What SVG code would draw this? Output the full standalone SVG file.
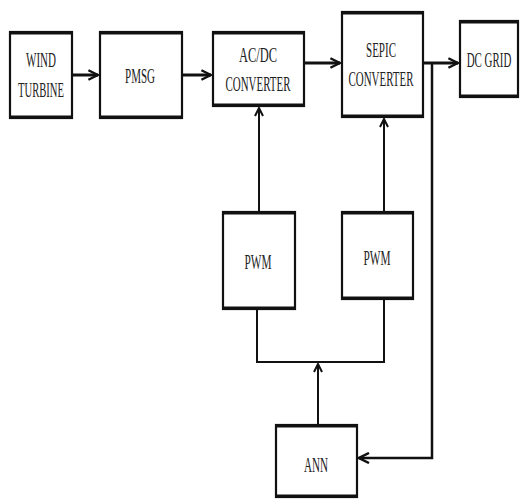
<svg xmlns="http://www.w3.org/2000/svg" width="520" height="499" viewBox="0 0 520 499">
<defs>
<style>
.box{fill:#fff;stroke:#111;stroke-width:2.2}
.edge{stroke:#111;stroke-width:3.2}
.t{font-family:"Liberation Serif","DejaVu Serif",serif;font-size:21px;fill:#222;text-anchor:middle}
.c{fill:none;stroke:#111;stroke-width:2}
.ct{fill:none;stroke:#111;stroke-width:3}
</style>
<marker id="ah" viewBox="0 0 10 10" refX="9" refY="5" markerWidth="4" markerHeight="4" orient="auto" markerUnits="strokeWidth">
<path d="M1,1 L9,5 L1,9" fill="none" stroke="#111" stroke-width="2"/>
</marker>
<marker id="av" viewBox="0 0 10 10" refX="9" refY="5" markerWidth="5" markerHeight="5" orient="auto" markerUnits="strokeWidth">
<path d="M1,1 L9,5 L1,9" fill="none" stroke="#111" stroke-width="2"/>
</marker>
</defs>
<rect width="520" height="499" fill="#fff"/>
<g id="connectors">
<line class="ct" x1="73" y1="75" x2="98" y2="75" marker-end="url(#ah)"/>
<line class="ct" x1="183" y1="75" x2="211" y2="75" marker-end="url(#ah)"/>
<line class="ct" x1="305" y1="63" x2="340" y2="63" marker-end="url(#ah)"/>
<line class="ct" x1="424" y1="63" x2="458" y2="63" marker-end="url(#ah)"/>
<polyline class="c" points="432,63 432,458 359,458" marker-end="url(#av)" style="stroke-width:2.5"/>
<line class="c" x1="259" y1="212" x2="259" y2="108" marker-end="url(#av)"/>
<line class="c" x1="384" y1="212" x2="384" y2="119" marker-end="url(#av)"/>
<polyline class="c" points="257,309 257,362 384,362 384,299"/>
<line class="c" x1="318" y1="425" x2="318" y2="364" marker-end="url(#av)"/>
</g>
<g id="wind-turbine">
<rect class="box" x="10" y="32" width="62" height="86"/>
<line class="edge" x1="9" y1="33" x2="73" y2="33"/><line class="edge" x1="9" y1="117" x2="73" y2="117"/>
<text class="t" x="41" y="67" textLength="30" lengthAdjust="spacingAndGlyphs">WIND</text>
<text class="t" x="41" y="97" textLength="46" lengthAdjust="spacingAndGlyphs">TURBINE</text>
</g>
<g id="pmsg">
<rect class="box" x="100" y="32" width="82" height="86"/>
<line class="edge" x1="99" y1="33" x2="183" y2="33"/><line class="edge" x1="99" y1="117" x2="183" y2="117"/>
<text class="t" x="140" y="83" textLength="30" lengthAdjust="spacingAndGlyphs">PMSG</text>
</g>
<g id="ac-dc-converter">
<rect class="box" x="213" y="32" width="91" height="74"/>
<line class="edge" x1="212" y1="33" x2="305" y2="33"/><line class="edge" x1="212" y1="105" x2="305" y2="105"/>
<text class="t" x="258" y="62" textLength="38" lengthAdjust="spacingAndGlyphs">AC/DC</text>
<text class="t" x="258" y="91" textLength="65" lengthAdjust="spacingAndGlyphs">CONVERTER</text>
</g>
<g id="sepic-converter">
<rect class="box" x="342" y="12" width="81" height="105"/>
<line class="edge" x1="341" y1="13" x2="424" y2="13"/><line class="edge" x1="341" y1="116" x2="424" y2="116"/>
<text class="t" x="381" y="57" textLength="30" lengthAdjust="spacingAndGlyphs">SEPIC</text>
<text class="t" x="381" y="86" textLength="65" lengthAdjust="spacingAndGlyphs">CONVERTER</text>
</g>
<g id="dc-grid">
<rect class="box" x="460" y="21" width="58" height="76"/>
<line class="edge" x1="459" y1="22" x2="519" y2="22"/><line class="edge" x1="459" y1="96" x2="519" y2="96"/>
<text class="t" transform="translate(489,67) scale(0.52,1)">DC GRID</text>
</g>
<g id="pwm-1">
<rect class="box" x="223" y="212" width="72" height="97"/>
<line class="edge" x1="222" y1="213" x2="296" y2="213"/><line class="edge" x1="222" y1="308" x2="296" y2="308"/>
<text class="t" x="258" y="269" textLength="27" lengthAdjust="spacingAndGlyphs">PWM</text>
</g>
<g id="pwm-2">
<rect class="box" x="342" y="212" width="71" height="87"/>
<line class="edge" x1="341" y1="213" x2="414" y2="213"/><line class="edge" x1="341" y1="298" x2="414" y2="298"/>
<text class="t" x="377" y="265" textLength="27" lengthAdjust="spacingAndGlyphs">PWM</text>
</g>
<g id="ann">
<rect class="box" x="276" y="425" width="81" height="72"/>
<line class="edge" x1="275" y1="426" x2="358" y2="426"/><line class="edge" x1="275" y1="496" x2="358" y2="496"/>
<text class="t" x="316" y="472" textLength="24" lengthAdjust="spacingAndGlyphs">ANN</text>
</g>
</svg>
